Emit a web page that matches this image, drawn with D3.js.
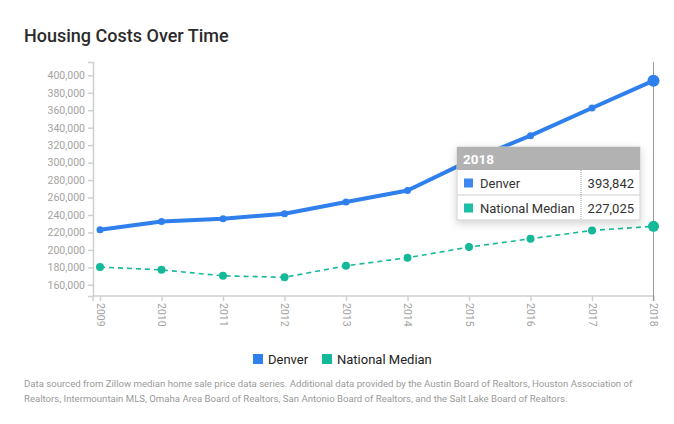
<!DOCTYPE html>
<html lang="en">
<head>
<meta charset="UTF-8">
<title>Housing Costs Over Time</title>
<script src="https://d3js.org/d3.v7.min.js"></script>
<style>
  body { margin: 0; background: #fff; font-family: Roboto, "Open Sans", sans-serif; }
  .axis text { fill: #a3a3a3; font-size: 10.5px; font-family: Roboto, sans-serif; }
  .axis path, .axis line { stroke: #d0d0d0; stroke-width: 1.5; }
</style>
</head>
<body>
<script>
// data
var years = [2009, 2010, 2011, 2012, 2013, 2014, 2015, 2016, 2017, 2018];
var denver = [223100, 232600, 235700, 241400, 254800, 268100, 302000, 330900, 362600, 393842];
var national = [180300, 177200, 170300, 168600, 181800, 191000, 203200, 212800, 222300, 227025];
var yTicks = [160000, 180000, 200000, 220000, 240000, 260000, 280000, 300000, 320000, 340000, 360000, 380000, 400000];
var seriesNames = ["Denver", "National Median"];
var footnote = [
  "Data sourced from Zillow median home sale price data series. Additional data provided by the Austin Board of Realtors, Houston Association of",
  "Realtors, Intermountain MLS, Omaha Area Board of Realtors, San Antonio Board of Realtors, and the Salt Lake Board of Realtors."
];

var width = 674, height = 424;
var blue = "#2f7fec", teal = "#14b99a";
var fmt = d3.format(",");

var svg = d3.select("body").append("svg")
  .attr("width", width)
  .attr("height", height);

var defs = svg.append("defs");
var f = defs.append("filter").attr("id", "shadow")
  .attr("x", "-20%").attr("y", "-20%").attr("width", "140%").attr("height", "160%");
f.append("feDropShadow").attr("dx", 0).attr("dy", 3).attr("stdDeviation", 4)
  .attr("flood-color", "#000").attr("flood-opacity", 0.18);

// title
svg.append("text")
  .attr("x", 24).attr("y", 42)
  .attr("font-size", "18px").attr("font-weight", 500)
  .attr("fill", "#2b2b2b")
  .text("Housing Costs Over Time");

// scales
var all = denver.concat(national);
var lo = d3.min(all), hi = d3.max(all), pad = (hi - lo) * 0.095;
var x = d3.scaleLinear().domain([years[0], years[years.length - 1]]).range([100, 653.5]);
var y = d3.scaleLinear().domain([lo - pad, hi + pad]).range([296, 62]);

// y axis
svg.append("g").attr("class", "axis")
  .attr("transform", "translate(93,0)")
  .call(d3.axisLeft(y).tickValues(yTicks).tickFormat(fmt).tickSize(5).tickSizeOuter(5).tickPadding(3));

// x axis
var xAxis = svg.append("g").attr("class", "axis")
  .attr("transform", "translate(0,296)")
  .call(d3.axisBottom(x).tickValues(years).tickFormat(d3.format("d")).tickSize(5).tickSizeOuter(0));
xAxis.select(".domain").attr("d", "M93,5V0H" + x.range()[1] + "V5");
xAxis.selectAll(".tick text")
  .attr("transform", "rotate(90)")
  .attr("text-anchor", "start")
  .attr("dy", "0.35em")
  .attr("x", 7).attr("y", 0);

// hover line at last year
var last = years.length - 1;
svg.append("line")
  .attr("x1", x(years[last])).attr("x2", x(years[last]))
  .attr("y1", 62).attr("y2", 301)
  .attr("stroke", "#9a9a9a").attr("stroke-width", 1);

var line = function (vals) {
  return d3.line().x(function (d, i) { return x(years[i]); }).y(function (d) { return y(d); })(vals);
};

// national median
svg.append("path")
  .attr("d", line(national))
  .attr("fill", "none").attr("stroke", teal)
  .attr("stroke-width", 1.6).attr("stroke-dasharray", "5,4");
svg.selectAll(".nat").data(national).enter().append("circle")
  .attr("cx", function (d, i) { return x(years[i]); })
  .attr("cy", function (d) { return y(d); })
  .attr("r", function (d, i) { return i === last ? 5.5 : 4; })
  .attr("fill", teal);

// denver
svg.append("path")
  .attr("d", line(denver))
  .attr("fill", "none").attr("stroke", blue)
  .attr("stroke-width", 4).attr("stroke-linejoin", "round");
svg.selectAll(".den").data(denver).enter().append("circle")
  .attr("cx", function (d, i) { return x(years[i]); })
  .attr("cy", function (d) { return y(d); })
  .attr("r", function (d, i) { return i === last ? 6 : 3.5; })
  .attr("fill", blue);

// tooltip
var tt = svg.append("g").attr("transform", "translate(457,147)");
tt.append("rect").attr("width", 183).attr("height", 73)
  .attr("fill", "#fff").attr("stroke", "#cfcfcf").attr("filter", "url(#shadow)");
tt.append("rect").attr("width", 183).attr("height", 23).attr("fill", "#b2b2b2");
tt.append("text").attr("x", 6).attr("y", 16.5)
  .attr("fill", "#fff").attr("font-size", "13.5px").attr("font-weight", 700)
  .text(years[last]);
tt.append("line").attr("x1", 0).attr("x2", 183).attr("y1", 48).attr("y2", 48)
  .attr("stroke", "#d0d0d0");
tt.append("line").attr("x1", 124).attr("x2", 124).attr("y1", 23).attr("y2", 73)
  .attr("stroke", "#999").attr("stroke-dasharray", "1,1");
var ttVals = [denver[last], national[last]];
var ttCols = ["#3f87f0", "#1dbfa6"];
seriesNames.forEach(function (n, i) {
  var yy = 23 + i * 25;
  tt.append("rect").attr("x", 7).attr("y", yy + 8.5).attr("width", 9).attr("height", 9).attr("fill", ttCols[i]);
  tt.append("text").attr("x", 23).attr("y", yy + 17.5)
    .attr("font-size", "13px").attr("fill", "#333").text(n);
  tt.append("text").attr("x", 177).attr("y", yy + 17.5).attr("text-anchor", "end")
    .attr("font-size", "13px").attr("fill", "#333").text(fmt(ttVals[i]));
});

// legend
var legX = [253, 322];
var legCols = [blue, teal];
seriesNames.forEach(function (n, i) {
  svg.append("rect").attr("x", legX[i]).attr("y", 354).attr("width", 10).attr("height", 10).attr("fill", legCols[i]);
  svg.append("text").attr("x", legX[i] + 15).attr("y", 363.5)
    .attr("font-size", "13px").attr("fill", "#222").text(n);
});

// footnote
svg.selectAll(".foot").data(footnote).enter().append("text")
  .attr("x", 24).attr("y", function (d, i) { return 387 + i * 15; })
  .attr("font-size", "9.6px").attr("fill", "#9a9a9a")
  .text(function (d) { return d; });
</script>
</body>
</html>
